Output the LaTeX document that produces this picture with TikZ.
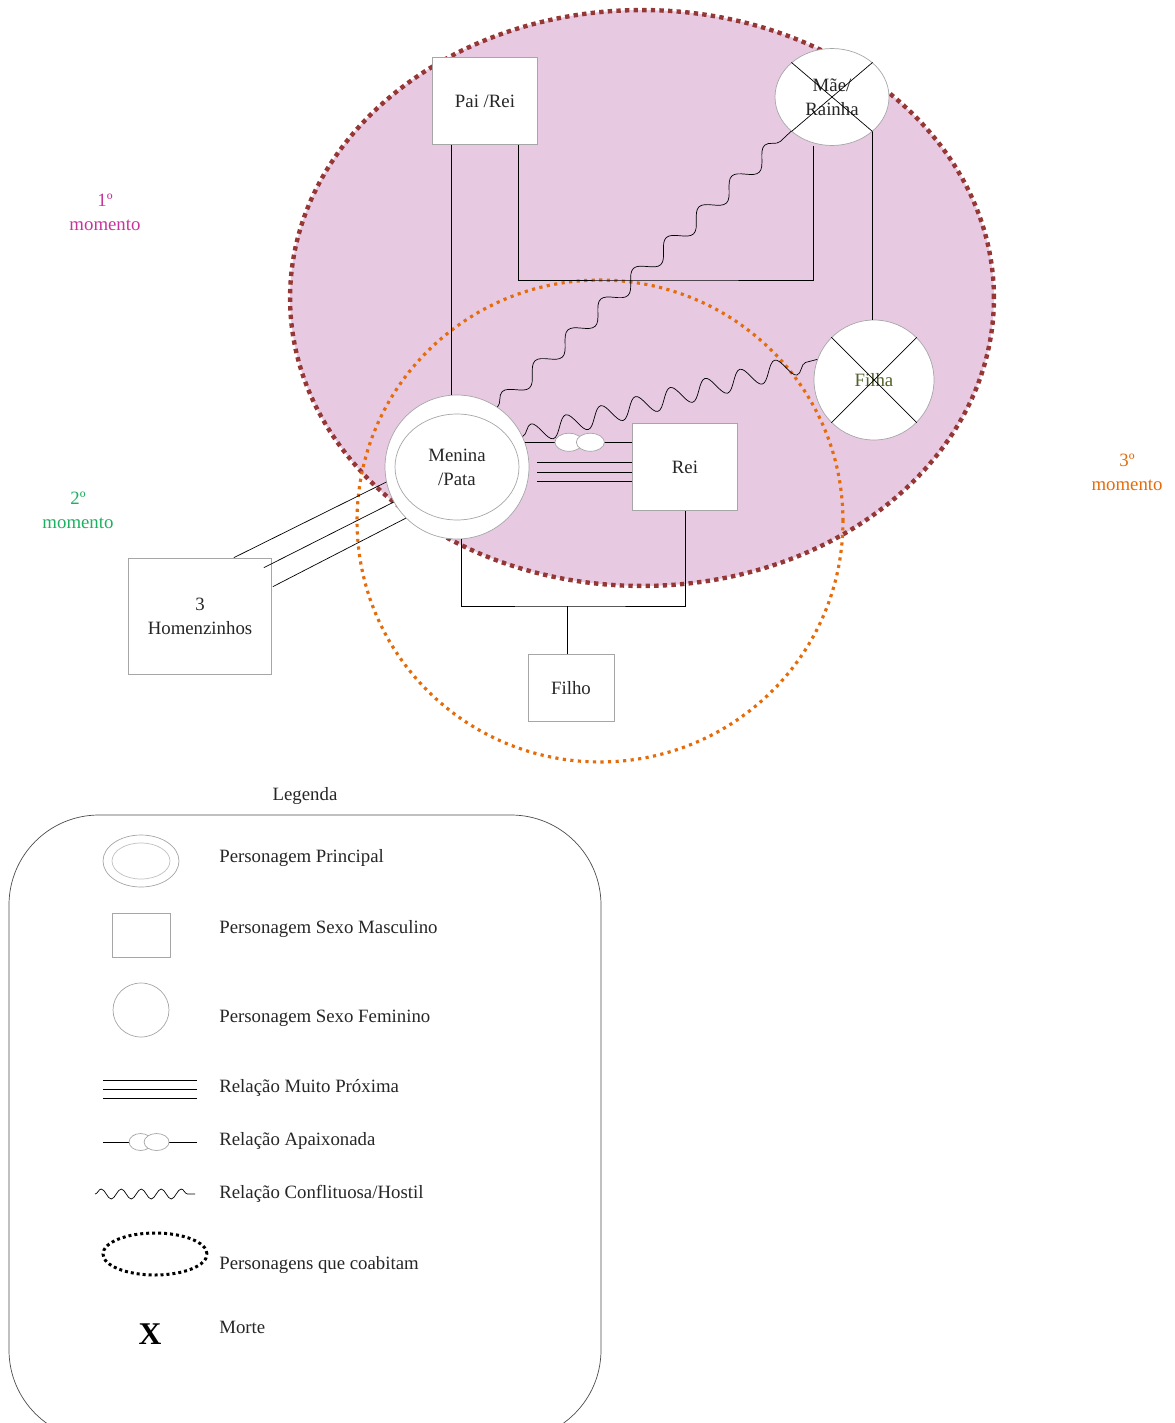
\documentclass[tikz,border=0pt]{standalone}
\usepackage{fontspec}
\setmainfont{Liberation Serif}
\usetikzlibrary{shapes,decorations.pathmorphing,calc,positioning}
\definecolor{rosa}{HTML}{E7CAE2}
\definecolor{bordo}{HTML}{953735}
\definecolor{laranja}{HTML}{E46C0A}
\definecolor{magenta1}{HTML}{C8339B}
\definecolor{verde}{HTML}{1DB060}
\definecolor{oliva}{HTML}{4F6128}
\definecolor{cinza}{HTML}{A6A6A6}
\definecolor{traco}{HTML}{333333}
\tikzset{
	x=0.02cm, y=-0.02cm, line width=0.7pt, draw=traco,
	every node/.style={font=\fontsize{10.7}{13.8}\selectfont, align=center, text=black!85},
	masc/.style={rectangle, draw=cinza, thin, fill=white, minimum width=2.1cm, minimum height=1.74cm},
	fem/.style={ellipse, draw=cinza, thin, fill=white, inner sep=0pt},
	apaix/.style={ellipse, draw=cinza, thin, fill=white, minimum width=0.56cm, minimum height=0.36cm, inner sep=0pt},
	conflito/.style={decorate, decoration={snake, segment length=0.9cm, amplitude=0.16cm}},
	legtxt/.style={anchor=west, inner xsep=0pt}
}

\begin{document}
\begin{tikzpicture}
	\useasboundingbox (0,0) rectangle (1174,1423);
	% personagens que coabitam
	\draw[bordo, line width=2.5pt, dash pattern=on 2.5pt off 2.4pt, fill=rosa] (642,298) ellipse [x radius=7.04cm, y radius=5.76cm];
	\draw[laranja, line width=1.8pt, dash pattern=on 1.8pt off 2.5pt] (600,521) ellipse [x radius=4.86cm, y radius=4.82cm];
	
	\node[masc] (pai) at (485,101) {Pai /Rei};
	\node[fem, minimum width=2.28cm, minimum height=1.94cm] (mae) at (832,97) {Mãe/\\Rainha};
	\node[fem, minimum width=2.4cm, minimum height=2.4cm, text=oliva] (filha) at (874,380) {Filha};
	\node[fem, minimum width=2.88cm, minimum height=2.88cm] (menina) at (457,467) {};
	\node[fem, minimum width=2.48cm, minimum height=2.12cm] (meninain) at (menina) {Menina\\/Pata};
	\node[masc] (rei) at (685,467) {Rei};
	\node[masc, minimum width=2.86cm, minimum height=2.32cm] (homens) at (200,616) {3\\Homenzinhos};
	\node[masc, minimum width=1.72cm, minimum height=1.34cm] (filho) at (571,688) {Filho};
	
	\node[text=magenta1] (m1) at (105,212) {1º\\momento};
	\node[text=verde] (m2) at (78,510) {2º\\momento};
	\node[text=laranja] (m3) at (1127,472) {3º\\momento};
	
	% morte
	\draw (mae.north west) -- (mae.south east);
	\draw (mae.south west) -- (mae.north east);
	\draw (filha.north west) -- (filha.south east);
	\draw (filha.south west) -- (filha.north east);
	
	% familia
	\coordinate (uniao) at (665,280);
	\coordinate (casal) at (567,606);
	\draw ([xshift=0.38cm]pai.south west) coordinate (pe) -- (pe |- menina.north);
	\draw ([xshift=-0.4cm]pai.south east) |- (uniao) -| ([xshift=-0.38cm]mae.south);
	\draw (mae.south east) -- (mae.south east |- filha.north);
	\draw ([xshift=0.08cm]menina.south) |- (casal) -| (rei.south);
	\draw (filho.north -| casal) -- (casal);
	
	% relacoes
	\draw (menina.20) -- (menina.20 -| rei.west) node[apaix, pos=0.41] {} node[apaix, pos=0.61] {};
	\foreach \dy in {-5,5,14}
		\draw ($(menina.east)+(8,\dy)$) coordinate (p) -- (p -| rei.west);
	\draw ($(homens.north east)+(-38,0)$) -- (menina.192);
	\draw ($(homens.north east)+(-8,10)$) -- (menina.209);
	\draw ($(homens.north east)+(1,29)$) -- (menina.225);
	\draw[conflito] (menina.56) -- (mae.220);
	\draw[conflito, decoration={segment length=0.72cm, amplitude=0.2cm}] (menina.25) -- (filha.160);
	
	% legenda
	\node (legenda) at (305,796) {Legenda};
	\draw[black!70, thin, rounded corners=1.8cm] (9,815) rectangle (601,1440);
	\node[fem, minimum width=1.52cm, minimum height=1.04cm] (lprinc) at (141,861) {};
	\node[fem, draw=cinza!70, minimum width=1.16cm, minimum height=0.72cm] (lprincin) at (lprinc) {};
	\node[masc, minimum width=1.16cm, minimum height=0.88cm] (lmasc) at (141,935) {};
	\node[fem, minimum width=1.12cm, minimum height=1.08cm] (lfem) at (141,1010) {};
	\coordinate (lproxa) at (103,1089);
	\coordinate (lproxb) at (197,1089);
	\foreach \dy in {-9,0,9}
		\draw ($(lproxa)+(0,\dy)$) -- ($(lproxb)+(0,\dy)$);
	\coordinate (lapaixa) at (103,1142);
	\coordinate (lapaixb) at (197,1142);
	\draw (lapaixa) -- (lapaixb) node[apaix, minimum width=0.46cm, minimum height=0.34cm, pos=0.40] {} node[apaix, minimum width=0.5cm, minimum height=0.34cm, pos=0.57] {};
	\coordinate (lconfa) at (95,1194);
	\coordinate (lconfb) at (195,1194);
	\draw[conflito, decoration={segment length=0.4cm, amplitude=0.1cm}] (lconfa) -- (lconfb);
	\draw[black, line width=1.7pt, dash pattern=on 1.7pt off 1.7pt] (155,1254) ellipse [x radius=1.04cm, y radius=0.42cm];
	\node[font=\bfseries\fontsize{18}{18}\selectfont, text=black] (lmorte) at (150,1334) {X};
	
	\node[legtxt] (tprinc) at (219,858) {Personagem Principal};
	\node[legtxt] (tmasc) at (219,929) {Personagem Sexo Masculino};
	\node[legtxt] (tfem) at (219,1018) {Personagem Sexo Feminino};
	\node[legtxt] (tprox) at (219,1088) {Relação Muito Próxima};
	\node[legtxt] (tapaix) at (219,1141) {Relação Apaixonada};
	\node[legtxt] (tconf) at (219,1194) {Relação Conflituosa/Hostil};
	\node[legtxt] (tcoab) at (219,1265) {Personagens que coabitam};
	\node[legtxt] (tmorte) at (219,1327) {Morte};
\end{tikzpicture}
\end{document}
